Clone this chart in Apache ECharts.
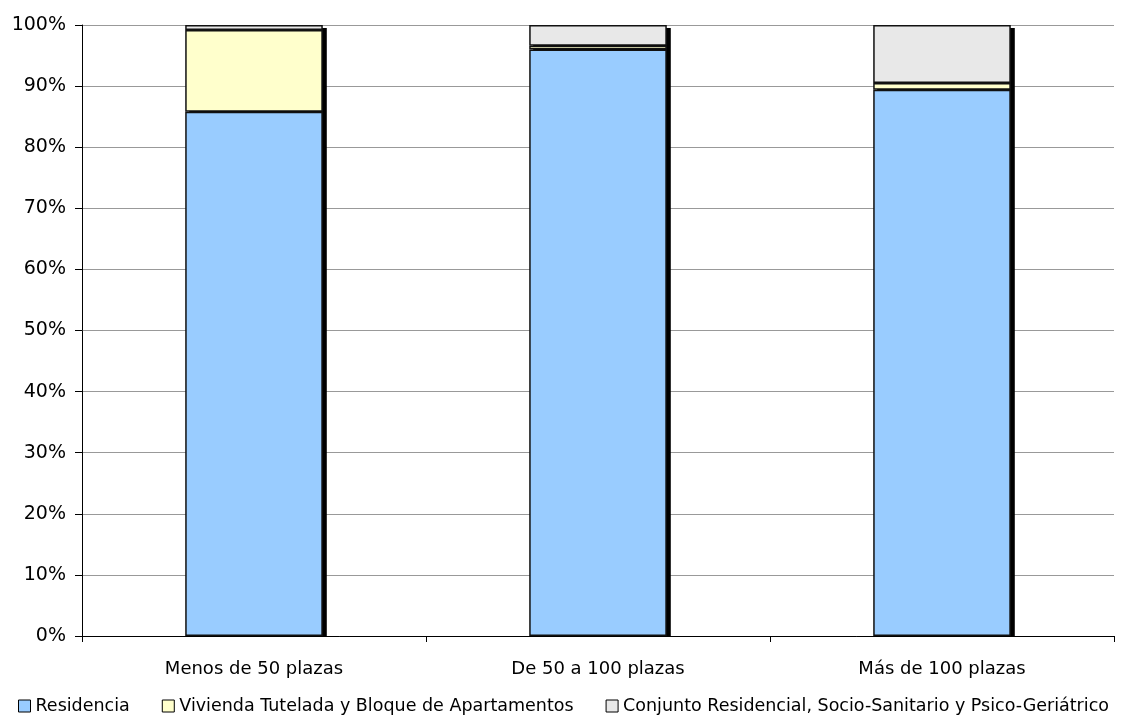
<!DOCTYPE html>
<html><head><meta charset="utf-8">
<script src="https://cdn.jsdelivr.net/npm/echarts@6/dist/echarts.min.js"></script>
<style>html,body{margin:0;padding:0;background:#fff}#c{width:1123px;height:717px}</style>
</head><body><div id="c"></div>
<script>
const categories = ['Menos de 50 plazas', 'De 50 a 100 plazas', 'Más de 100 plazas'];
const residencia = [85.8, 96.0, 89.4];
const vivienda = [13.4, 0.6, 1.1];
const conjunto = [0.8, 3.4, 9.5];
const seriesNames = ['Residencia', 'Vivienda Tutelada y Bloque de Apartamentos', 'Conjunto Residencial, Socio-Sanitario y Psico-Geriátrico'];
const colors = ['#99CCFF', '#FFFFCC', '#E8E8E8'];
const yTicks = [0, 10, 20, 30, 40, 50, 60, 70, 80, 90, 100];

const font = 'Verdana, "DejaVu Sans", sans-serif';
const data = [residencia, vivienda, conjunto];
const totals = categories.map((c, i) => [i, residencia[i] + vivienda[i] + conjunto[i]]);
const BAR_RATIO = 0.4;
const chart = echarts.init(document.getElementById('c'), null, {renderer: 'canvas'});
chart.setOption({
  animation: false,
  grid: {left: 82, right: 9, top: 25, bottom: 81, containLabel: false},
  legend: {
    top: 697, left: 18, itemWidth: 12, itemHeight: 12, itemGap: 32, padding: 0,
    icon: 'rect',
    textStyle: {fontFamily: font, fontSize: 17.5, color: '#000', padding: [0, 0, 0, 0]},
    data: seriesNames.map((n) => ({name: n, itemStyle: {borderColor: '#000', borderWidth: 1}}))
  },
  xAxis: {
    type: 'category', data: categories,
    axisLine: {lineStyle: {color: '#000', width: 1}},
    axisTick: {show: true, length: 6, lineStyle: {color: '#000'}},
    axisLabel: {fontFamily: font, fontSize: 18, color: '#000', margin: 24}
  },
  yAxis: {
    type: 'value', min: 0, max: 100, interval: 10,
    axisLine: {show: true, lineStyle: {color: '#000'}},
    axisTick: {show: true, length: 7, lineStyle: {color: '#000'}},
    axisLabel: {fontFamily: font, fontSize: 19, color: '#000', margin: 16, formatter: (v) => yTicks.includes(v) ? v + '%' : ''},
    splitLine: {lineStyle: {color: '#999', width: 1}}
  },
  series: [{
    type: 'custom', name: 'shadow', z: 1, silent: true,
    data: totals,
    renderItem: (params, api) => {
      const idx = api.value(0);
      const base = api.coord([idx, 0]);
      const top = api.coord([idx, api.value(1)]);
      const bw = api.size([1, 0])[0] * BAR_RATIO;
      return {type: 'rect', shape: {x: base[0] - bw / 2 + 4, y: top[1] + 3, width: bw, height: base[1] - top[1] - 3},
        style: {fill: '#000'}};
    }
  }].concat(seriesNames.map((n, i) => ({
    name: n, type: 'bar', stack: 'total', barWidth: (BAR_RATIO * 100) + '%', z: 2,
    data: data[i],
    itemStyle: {color: colors[i], borderColor: '#111', borderWidth: 1.5}
  })))
});
</script></body></html>
